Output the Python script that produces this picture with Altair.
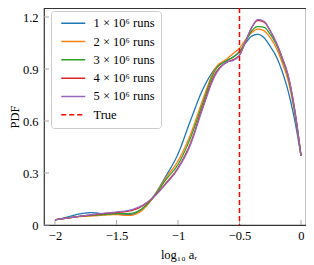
import altair as alt
import pandas as pd

x_vals = [-2.0, -1.9, -1.8, -1.7, -1.6, -1.5, -1.4, -1.3, -1.2, -1.1, -1.0, -0.9, -0.8,
          -0.7, -0.6, -0.55, -0.5, -0.45, -0.4, -0.35, -0.3, -0.25, -0.2, -0.15, -0.1, -0.05, 0.0]

runs_1e6 = [0.030, 0.046, 0.064, 0.071, 0.064, 0.062, 0.059, 0.088, 0.165, 0.28, 0.41, 0.60, 0.78,
            0.90, 0.95, 0.97, 1.00, 1.05, 1.09, 1.10, 1.08, 1.03, 0.97, 0.88, 0.76, 0.60, 0.40]
runs_2e6 = [0.030, 0.040, 0.048, 0.052, 0.057, 0.060, 0.055, 0.080, 0.160, 0.27, 0.37, 0.52, 0.72,
            0.90, 0.96, 0.99, 1.02, 1.07, 1.11, 1.13, 1.12, 1.08, 1.02, 0.93, 0.82, 0.64, 0.40]
runs_3e6 = [0.030, 0.040, 0.050, 0.056, 0.060, 0.065, 0.066, 0.090, 0.160, 0.26, 0.35, 0.50, 0.70,
            0.89, 0.95, 0.97, 1.00, 1.06, 1.12, 1.145, 1.14, 1.10, 1.04, 0.95, 0.84, 0.65, 0.40]
runs_4e6 = [0.030, 0.040, 0.050, 0.058, 0.066, 0.072, 0.080, 0.105, 0.160, 0.24, 0.33, 0.47, 0.68,
            0.87, 0.94, 0.955, 0.98, 1.06, 1.14, 1.18, 1.17, 1.12, 1.05, 0.96, 0.85, 0.66, 0.40]
runs_5e6 = [0.030, 0.040, 0.050, 0.060, 0.068, 0.075, 0.085, 0.110, 0.160, 0.235, 0.325, 0.46, 0.67,
            0.86, 0.94, 0.95, 0.98, 1.06, 1.14, 1.185, 1.175, 1.12, 1.05, 0.96, 0.85, 0.66, 0.40]

series_names = ["1 × 10⁶ runs", "2 × 10⁶ runs", "3 × 10⁶ runs", "4 × 10⁶ runs", "5 × 10⁶ runs"]
true_name = "True"
true_value = -0.5

x_ticks = [-2, -1.5, -1, -0.5, 0]
y_ticks = [0, 0.3, 0.6, 0.9, 1.2]

rows = []
for name, ys in zip(series_names, [runs_1e6, runs_2e6, runs_3e6, runs_4e6, runs_5e6]):
    for xv, yv in zip(x_vals, ys):
        rows.append({"x": xv, "y": yv, "series": name})
df = pd.DataFrame(rows)
df_true = pd.DataFrame({"x": [true_value], "series": [true_name]})
df_xt = pd.DataFrame({"x": x_ticks})
df_yt = pd.DataFrame({"y": y_ticks})

domain = series_names + [true_name]
colors = ["#1f77b4", "#ff7f0e", "#2ca02c", "#d62728", "#9467bd", "#ff0000"]
dashes = [[1, 0], [1, 0], [1, 0], [1, 0], [1, 0], [5, 3]]

FONT = "Liberation Serif, DejaVu Serif, serif"
FS = 12.5

W, H = 262, 217
xs = alt.Scale(domain=[-2.0894, 0.0407], nice=False, zero=False)
ys = alt.Scale(domain=[0, 1.252], nice=False, zero=False)

x_axis = alt.Axis(values=x_ticks, format=".1~f", title="log₁₀ aᵣ", ticks=False, domain=False,
                  grid=False, labelPadding=4, labelFlush=False, titleY=23, titleX=134.5)
y_axis = alt.Axis(values=y_ticks, format=".1~f", title="PDF", ticks=False, domain=False,
                  grid=False, labelPadding=6, labelFlush=False, titleX=-23, titleY=108.5)

legend = alt.Legend(title=None, orient="none", legendX=7, legendY=3, padding=6,
                    cornerRadius=3, strokeColor="#cccccc", fillColor="white",
                    labelFont=FONT, labelFontSize=FS, labelColor="black",
                    symbolType="M-1,0H11", symbolSize=16, symbolStrokeWidth=1.5,
                    labelOffset=24, rowPadding=5.3)

color = alt.Color("series:N", scale=alt.Scale(domain=domain, range=colors), legend=legend)
dash = alt.StrokeDash("series:N", scale=alt.Scale(domain=domain, range=dashes), legend=legend)

lines = alt.Chart(df).mark_line(strokeWidth=1.3, interpolate="monotone", clip=True).encode(
    x=alt.X("x:Q", scale=xs, axis=x_axis),
    y=alt.Y("y:Q", scale=ys, axis=y_axis),
    color=color,
    strokeDash=dash,
)

true_rule = alt.Chart(df_true).mark_rule(strokeWidth=1.5).encode(
    x=alt.X("x:Q", scale=xs, axis=x_axis),
    color=color,
    strokeDash=dash,
)

x_tick_marks = alt.Chart(df_xt).mark_rule(color="#aaaaaa", strokeWidth=1).encode(
    x=alt.X("x:Q", scale=xs, axis=x_axis),
    y=alt.value(H), y2=alt.value(H - 5),
)
y_tick_marks = alt.Chart(df_yt).mark_rule(color="#aaaaaa", strokeWidth=1).encode(
    y=alt.Y("y:Q", scale=ys, axis=y_axis),
    x=alt.value(0), x2=alt.value(5),
)

chart = alt.layer(x_tick_marks, y_tick_marks, lines, true_rule).properties(
    width=W, height=H,
    autosize=alt.AutoSizeParams(type="none"),
    padding={"left": 36, "top": 0, "right": 0, "bottom": 40},
).configure_view(
    stroke="#333333", strokeWidth=1.2
).configure_axis(
    labelFont=FONT, labelFontSize=FS, labelColor="black",
    titleFont=FONT, titleFontSize=FS, titleColor="black", titleFontWeight="normal",
)

chart.save("out.html", embed_options={"renderer": "svg", "actions": False})
